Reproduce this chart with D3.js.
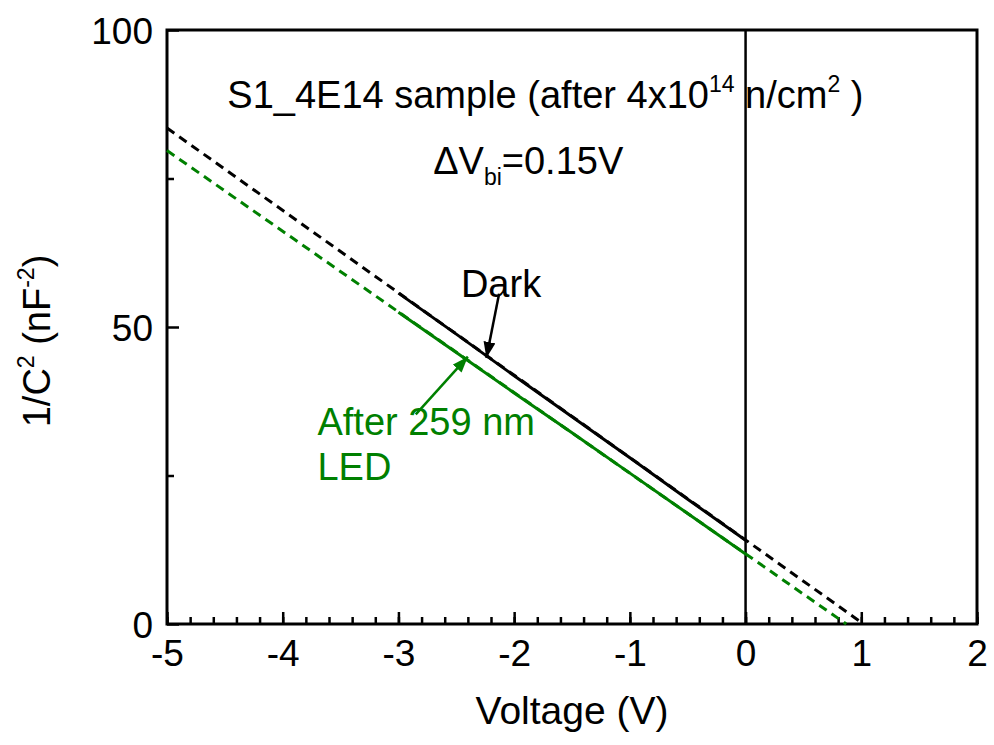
<!DOCTYPE html>
<html>
<head>
<meta charset="utf-8">
<script src="https://cdn.jsdelivr.net/npm/d3@7"></script>
<style>
  body { margin: 0; background: #fff; }
  text { font-family: "Liberation Sans", Arial, sans-serif; }
</style>
</head>
<body>
<div id="chart"></div>
<script>
const voltage = [-3, -2.5, -2, -1.5, -1, -0.5, 0];
const darkC2  = [55.7, 48.8, 41.8, 34.9, 28.0, 21.0, 14.1];
const ledC2   = [52.5, 45.7, 38.9, 32.2, 25.4, 18.6, 11.8];

// linear fit extrapolations (end points)
const fitV     = [-5, 1.02];
const fitDark  = [83.5, 0];
const fitLedV  = [-5, 0.87];
const fitLed   = [79.7, 0];

const xTicks = [-5, -4, -3, -2, -1, 0, 1, 2];
const yTicks = [0, 50, 100];

const WIDTH = 994, HEIGHT = 745;
const margin = {top: 30, right: 17, bottom: 121, left: 167},
      width  = WIDTH - margin.left - margin.right,
      height = HEIGHT - margin.top - margin.bottom;

const GREEN = "#008000";
const FS = 38;     // annotation font size
const SUP = 23;    // superscript size

const svg = d3.select("#chart")
              .append("svg")
              .attr("width", WIDTH)
              .attr("height", HEIGHT)
              .append("g")
              .attr("transform", `translate(${margin.left}, ${margin.top})`);

const x = d3.scaleLinear().domain([-5, 2]).range([0, width]);
const y = d3.scaleLinear().domain([0, 100]).range([height, 0]);

// frame
svg.append("rect")
   .attr("width", width).attr("height", height)
   .attr("fill", "none").attr("stroke", "black").attr("stroke-width", 3);

// vertical line at V = 0
svg.append("line")
   .attr("x1", x(0)).attr("x2", x(0))
   .attr("y1", 0).attr("y2", height)
   .attr("stroke", "black").attr("stroke-width", 2.5);

// minor ticks
svg.append("g")
   .attr("transform", `translate(0, ${height})`)
   .call(d3.axisBottom(x).tickValues(d3.range(-5, 2.001, 0.2)).tickSize(-7).tickFormat(""))
   .call(g => g.select(".domain").remove())
   .selectAll("line").attr("stroke-width", 2.5);
svg.append("g")
   .call(d3.axisLeft(y).tickValues([25, 75]).tickSize(-7).tickFormat(""))
   .call(g => g.select(".domain").remove())
   .selectAll("line").attr("stroke-width", 2.5);

// major ticks + labels
const xAxis = svg.append("g")
   .attr("transform", `translate(0, ${height})`)
   .call(d3.axisBottom(x).tickValues(xTicks).tickSize(-12).tickPadding(20).tickFormat(d3.format("d")));
xAxis.select(".domain").remove();
xAxis.selectAll("line").attr("stroke-width", 2.5);
xAxis.selectAll("text").attr("font-size", 37).attr("fill", "black")
     .attr("font-family", "Liberation Sans, Arial, sans-serif")
     .attr("dy", "0.71em").attr("y", 16)
     .text(d => d < 0 ? "-" + Math.abs(d) : d);

const yAxis = svg.append("g")
   .call(d3.axisLeft(y).tickValues(yTicks).tickSize(-12).tickPadding(14));
yAxis.select(".domain").remove();
yAxis.selectAll("line").attr("stroke-width", 2.5);
yAxis.selectAll("text").attr("font-size", 37).attr("fill", "black")
     .attr("font-family", "Liberation Sans, Arial, sans-serif")
     .attr("x", -14).attr("dy", "0.36em");

// fit lines (dashed)
const line = d3.line().x(d => x(d[0])).y(d => y(d[1]));
svg.append("path")
   .datum(d3.zip(fitV, fitDark))
   .attr("d", line).attr("fill", "none")
   .attr("stroke", "black").attr("stroke-width", 3).attr("stroke-dasharray", "9,6");
svg.append("path")
   .datum(d3.zip(fitLedV, fitLed))
   .attr("d", line).attr("fill", "none")
   .attr("stroke", GREEN).attr("stroke-width", 3).attr("stroke-dasharray", "9,6");

// measured lines (solid)
svg.append("path")
   .datum(d3.zip(voltage, ledC2))
   .attr("d", line).attr("fill", "none")
   .attr("stroke", GREEN).attr("stroke-width", 3);
svg.append("path")
   .datum(d3.zip(voltage, darkC2))
   .attr("d", line).attr("fill", "none")
   .attr("stroke", "black").attr("stroke-width", 3);

// arrows
const defs = svg.append("defs");
[["arrowK", "black"], ["arrowG", GREEN]].forEach(([id, c]) => {
  defs.append("marker")
      .attr("id", id).attr("viewBox", "0 0 16 12")
      .attr("refX", 16).attr("refY", 6)
      .attr("markerWidth", 16).attr("markerHeight", 12)
      .attr("markerUnits", "userSpaceOnUse")
      .attr("orient", "auto")
    .append("path").attr("d", "M0,0 L16,6 L0,12 z").attr("fill", c);
});
// arrow start/end in data coords
const darkArrow = [[-2.13, 55.6], [-2.24, 44.8]];
const ledArrow  = [[-2.85, 35.3], [-2.40, 45.0]];
svg.append("line")
   .attr("x1", x(darkArrow[0][0])).attr("y1", y(darkArrow[0][1]))
   .attr("x2", x(darkArrow[1][0])).attr("y2", y(darkArrow[1][1]))
   .attr("stroke", "black").attr("stroke-width", 2.5)
   .attr("marker-end", "url(#arrowK)");
svg.append("line")
   .attr("x1", x(ledArrow[0][0])).attr("y1", y(ledArrow[0][1]))
   .attr("x2", x(ledArrow[1][0])).attr("y2", y(ledArrow[1][1]))
   .attr("stroke", GREEN).attr("stroke-width", 2.5)
   .attr("marker-end", "url(#arrowG)");

// labels
svg.append("text")
   .attr("x", x(-2.46)).attr("y", y(55.0))
   .attr("font-size", FS).text("Dark");
const ledLabel = svg.append("text")
   .attr("font-size", FS).attr("fill", GREEN);
ledLabel.append("tspan").attr("x", x(-3.7)).attr("y", y(31.8)).text("After 259 nm");
ledLabel.append("tspan").attr("x", x(-3.7)).attr("y", y(24.2)).text("LED");

// title annotation
const title = svg.append("text")
   .attr("x", x(-1.73)).attr("y", y(86.9))
   .attr("text-anchor", "middle").attr("font-size", FS);
title.append("tspan").text("S1_4E14 sample (after 4x10");
title.append("tspan").attr("font-size", SUP).attr("dy", -16).text("14");
title.append("tspan").attr("dy", 16).text(" n/cm");
title.append("tspan").attr("font-size", SUP).attr("dy", -16).text("2");
title.append("tspan").attr("dy", 16).text(" )");

const dv = svg.append("text")
   .attr("x", x(-2.7)).attr("y", y(75.8)).attr("font-size", FS);
dv.append("tspan").text("\u0394V");
dv.append("tspan").attr("font-size", SUP).attr("dy", 11).text("bi");
dv.append("tspan").attr("dy", -11).text("=0.15V");

// axis titles
svg.append("text")
   .attr("x", width / 2).attr("y", height + 100)
   .attr("text-anchor", "middle").attr("font-size", 39)
   .text("Voltage (V)");

const yl = svg.append("text")
   .attr("transform", `translate(${-117}, ${height / 2 + 14}) rotate(-90)`)
   .attr("text-anchor", "middle").attr("font-size", FS);
yl.append("tspan").text("1/C");
yl.append("tspan").attr("font-size", SUP).attr("dy", -16).text("2");
yl.append("tspan").attr("dy", 16).text(" (nF");
yl.append("tspan").attr("font-size", SUP).attr("dy", -16).text("-2");
yl.append("tspan").attr("dy", 16).text(")");
</script>
</body>
</html>
